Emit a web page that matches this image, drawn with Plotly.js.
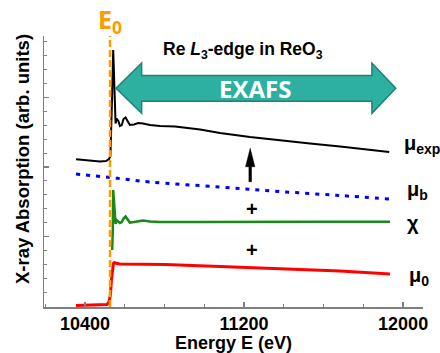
<!DOCTYPE html>
<html>
<head>
<meta charset="utf-8">
<script src="https://cdn.plot.ly/plotly-3.0.1.min.js"></script>
<style>html,body{margin:0;padding:0;background:#fff;}#chart{width:440px;height:353px;}</style>
</head>
<body>
<div id="chart"></div>
<script>
// ---- data ----
const E0 = [10526];

const energyExp = [10355,10425,10475,10506,10521,10528,10531,10536,10542,10546,10551,10554,10559,10568,10576,10585,10594,10604,10614,10626,10647,10667,10692,10727,10777,10853,10979,11079,11230,11381,11532,11683,11834,11930];
const muExp = [2.111,2.094,2.079,2.086,2.115,2.158,2.388,2.964,3.683,3.18,2.748,2.626,2.698,2.662,2.59,2.604,2.691,2.712,2.662,2.604,2.612,2.633,2.626,2.604,2.59,2.583,2.54,2.489,2.432,2.381,2.338,2.295,2.252,2.216];

const energyB = [10355,10526,10727,11079,11381,11683,11930];
const muB = [1.899,1.849,1.784,1.712,1.647,1.59,1.54];

const energyChi = [10537,10540,10542,10546,10551,10554,10559,10568,10576,10585,10594,10604,10614,10626,10647,10667,10692,10727,10777,10979,11230,11532,11934];
const chi = [0.806,1.094,1.669,1.453,1.266,1.18,1.237,1.209,1.194,1.209,1.259,1.288,1.245,1.201,1.209,1.216,1.23,1.216,1.209,1.209,1.213,1.211,1.213];

const energy0 = [10355,10475,10511,10521,10528,10533,10538,10543,10548,10556,10576,10677,10802,11079,11381,11683,11934];
const mu0 = [0.007,0.014,0.022,0.058,0.158,0.374,0.547,0.612,0.626,0.614,0.604,0.6,0.597,0.568,0.54,0.504,0.46];

const xTickVals = [10400, 11200, 12000];
const xTickText = ['10400', '11200', '12000'];

const curveLabels = ['μ<sub>exp</sub>', 'μ<sub>b</sub>', 'χ', 'μ<sub>0</sub>'];
const labelPos = [[11993, 2.317], [12010, 1.669], [12010, 1.194], [12020, 0.43]];

// ---- styling ----
const AX = '#7f7f7f';
const FONT = 'Liberation Sans, Arial, sans-serif';
const ORANGE = '#FF9A00';

const traces = [
  {x: energyExp, y: muExp, mode: 'lines', line: {color: '#000000', width: 2}, hoverinfo: 'skip'},
  {x: energyB, y: muB, mode: 'lines', line: {color: '#0000FF', width: 3, dash: '4px,6px', shape: 'spline'}, hoverinfo: 'skip'},
  {x: energyChi, y: chi, mode: 'lines', line: {color: '#178A17', width: 2.5}, hoverinfo: 'skip'},
  {x: energy0, y: mu0, mode: 'lines', line: {color: '#FF0000', width: 3}, hoverinfo: 'skip'}
];

// EXAFS double arrow (data coordinates)
const aL = 10556, aLb = 10685, aRb = 11843, aR = 11963;
const aMid = 3.132, hTop = 3.496, hBot = 2.773, sTop = 3.317, sBot = 2.945;
const exafsPath = `M ${aL},${aMid} L ${aLb},${hTop} L ${aLb},${sTop} L ${aRb},${sTop} L ${aRb},${hTop} L ${aR},${aMid} L ${aRb},${hBot} L ${aRb},${sBot} L ${aLb},${sBot} L ${aLb},${hBot} Z`;

// up arrow
const ux = 11231, uhw = 23.4, usw = 6.5, uTip = 2.269, uBase = 2.004, uTail = 1.788;
const upPath = `M ${ux},${uTip} L ${ux+uhw},${uBase} L ${ux+usw},${uBase} L ${ux+usw},${uTail} L ${ux-usw},${uTail} L ${ux-usw},${uBase} L ${ux-uhw},${uBase} Z`;

const shapes = [
  {type: 'path', xref: 'x', yref: 'y', path: exafsPath, fillcolor: '#2EB0A1', line: {color: '#1F8276', width: 1.5}, layer: 'above'},
  {type: 'path', xref: 'x', yref: 'y', path: upPath, fillcolor: '#000000', line: {color: '#000000', width: 0.5}, layer: 'above'},
  {type: 'line', xref: 'x', yref: 'paper', x0: E0[0], x1: E0[0], y0: 0, y1: 1, line: {color: ORANGE, width: 2.5, dash: '7px,3px'}, layer: 'above'}
];

const annotations = [
  {xref: 'x', yref: 'paper', x: E0[0], y: 1, yanchor: 'bottom', xanchor: 'center', yshift: -5, showarrow: false,
   text: '<b>E<sub>0</sub></b>', font: {family: 'Open Sans, sans-serif', size: 25, color: ORANGE}},
  {xref: 'x', yref: 'y', x: 11195, y: 3.683, showarrow: false, xanchor: 'center', yanchor: 'middle',
   text: '<b>Re <i>L</i><sub>3</sub>-edge in ReO<sub>3</sub></b>', font: {family: FONT, size: 17.5, color: '#000'}},
  {xref: 'x', yref: 'y', x: 11255, y: 3.13, showarrow: false, xanchor: 'center', yanchor: 'middle',
   text: '<b>EXAFS</b>', font: {family: 'Open Sans, sans-serif', size: 24, color: '#ffffff'}},
  {xref: 'x', yref: 'y', x: 11240, y: 1.4, showarrow: false, text: '<b>+</b>', font: {family: FONT, size: 20, color: '#000'}},
  {xref: 'x', yref: 'y', x: 11240, y: 0.806, showarrow: false, text: '<b>+</b>', font: {family: FONT, size: 20, color: '#000'}},
  {xref: 'paper', yref: 'paper', x: -0.058, y: 0.546, showarrow: false, textangle: -90, xanchor: 'center', yanchor: 'middle',
   text: '<b>X-ray Absorption (arb. units)</b>', font: {family: FONT, size: 18.5, color: '#000'}}
];
curveLabels.forEach((t, i) => {
  annotations.push({xref: 'x', yref: 'y', x: labelPos[i][0], y: labelPos[i][1], showarrow: false, xanchor: 'left', yanchor: 'middle',
    text: '<b>' + t + '</b>', font: {family: FONT, size: 20, color: '#000'}});
});

const layout = {
  width: 440, height: 353,
  margin: {l: 44, r: 17, t: 36, b: 46, pad: 0},
  paper_bgcolor: '#ffffff', plot_bgcolor: '#ffffff',
  showlegend: false,
  font: {family: FONT, color: '#000'},
  xaxis: {
    range: [10194, 12100], tickmode: 'array', tickvals: xTickVals, ticktext: xTickText,
    ticks: 'inside', ticklen: 5, tickwidth: 1.5, tickcolor: AX,
    minor: {dtick: 200, tick0: 10400, ticks: 'inside', ticklen: 3, tickwidth: 1.2, tickcolor: AX},
    showline: true, linecolor: AX, linewidth: 1.5, showgrid: false, zeroline: false,
    tickfont: {family: FONT, size: 18, color: '#000', weight: 'bold'},
    title: {text: '<b>Energy E (eV)</b>', font: {family: FONT, size: 18, color: '#000'}, standoff: 1}
  },
  yaxis: {
    range: [-0.014, 3.885], dtick: 1, tick0: 0,
    ticks: 'inside', ticklen: 5, tickwidth: 1.2, tickcolor: AX,
    minor: {dtick: 0.2, ticks: 'inside', ticklen: 3, tickwidth: 1, tickcolor: AX},
    showticklabels: false,
    showline: true, linecolor: AX, linewidth: 1.5, showgrid: false, zeroline: false
  },
  shapes: shapes,
  annotations: annotations
};

Plotly.newPlot('chart', traces, layout, {displayModeBar: false, staticPlot: true});
</script>
</body>
</html>
